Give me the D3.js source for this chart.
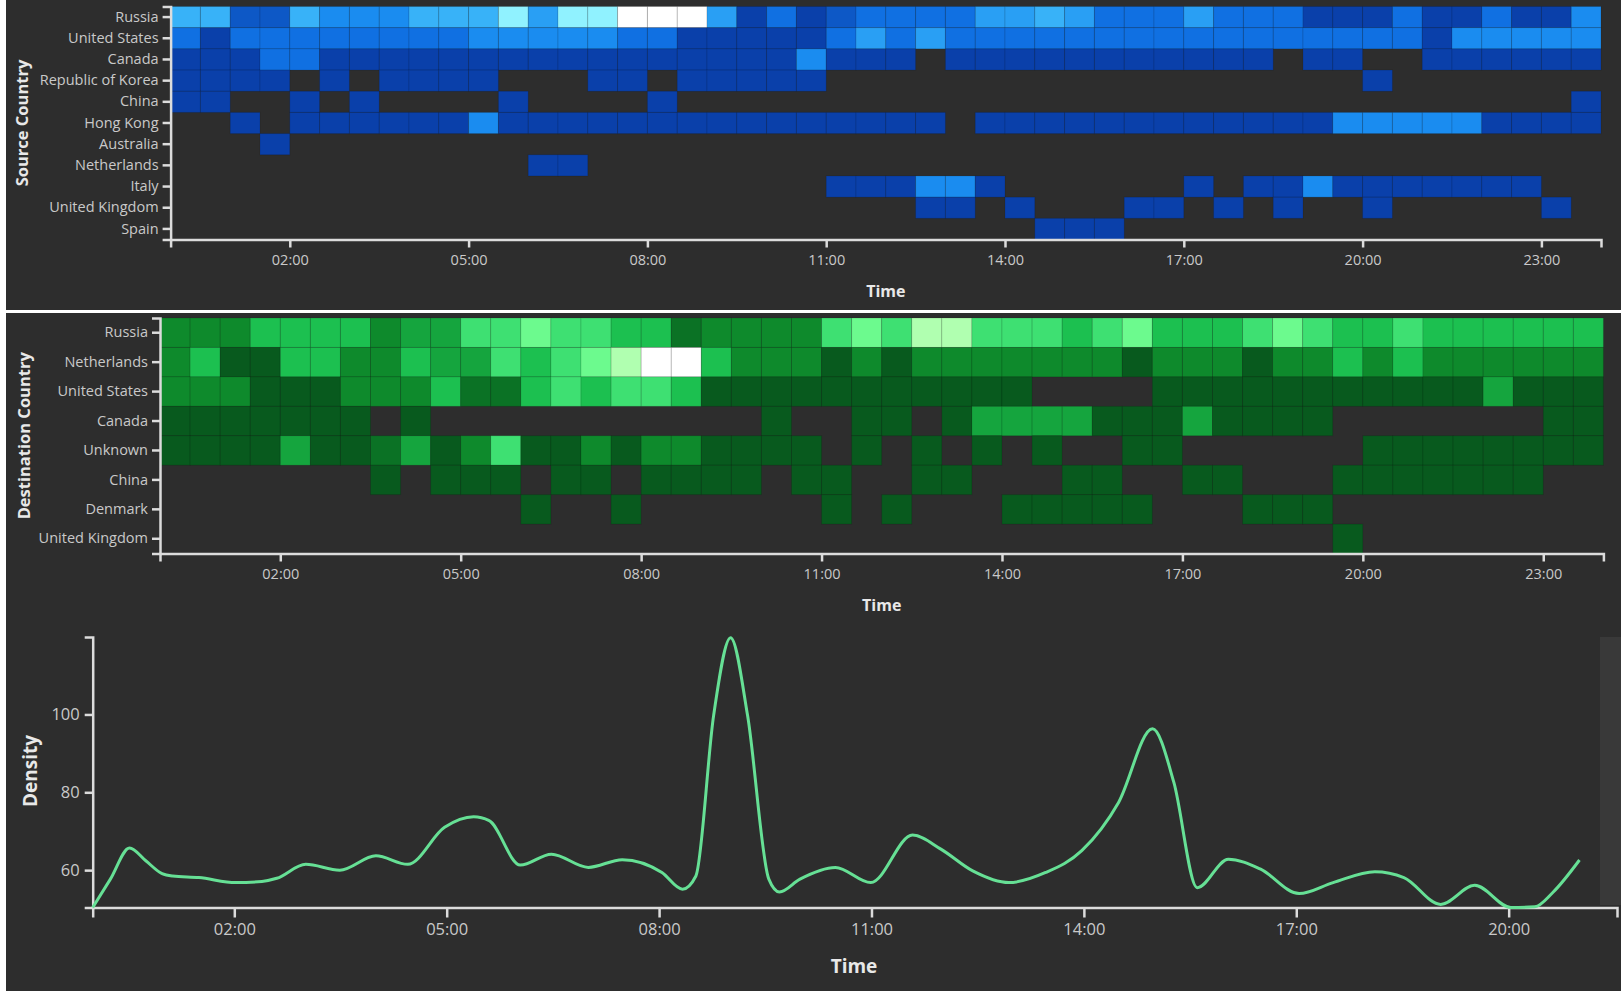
<!DOCTYPE html>
<html>
<head>
<meta charset="utf-8">
<script src="https://cdnjs.cloudflare.com/ajax/libs/d3/7.8.5/d3.min.js"></script>
<style>
    body { margin: 0; background: #ffffff; }
    svg text { font-family: "Open Sans", sans-serif; }
    .axis path, .axis line { stroke: #dcdcdc; stroke-width: 2.5; }
    .axis text { fill: #c9c9c9; }
    .title { fill: #e8e8e8; font-weight: bold; }
</style>
</head>
<body>
<svg id="dashboard"></svg>
<script>
// Source country heatmap (half hour slots, 0 = no traffic).
const sourceCountries = ['Russia', 'United States', 'Canada', 'Republic of Korea', 'China', 'Hong Kong',
    'Australia', 'Netherlands', 'Italy', 'United Kingdom', 'Spain'];
const sourceCounts = [
    [6,6,2,2,6,4,4,4,6,6, 6,9,5,9,9,12,12,12,5,1, 3,1,2,3,3,3,3,5,5,6, 5,3,3,3,5,3,3,3,1,1, 1,3,1,1,3,1,1,4],
    [3,1,3,3,3,3,3,3,3,3, 4,4,4,4,4,3,3,1,1,1, 1,1,3,5,3,5,3,3,3,3, 3,3,3,3,3,3,3,3,3,3, 3,3,1,4,4,4,4,4],
    [1,1,1,3,3,1,1,1,1,1, 1,1,1,1,1,1,1,1,1,1, 1,4,1,1,1,0,1,1,1,1, 1,1,1,1,1,1,1,0,1,1, 0,0,1,1,1,1,1,1],
    [1,1,1,1,0,1,0,1,1,1, 1,0,0,0,1,1,0,1,1,1, 1,1,0,0,0,0,0,0,0,0, 0,0,0,0,0,0,0,0,0,0, 1,0,0,0,0,0,0,0],
    [1,1,0,0,1,0,1,0,0,0, 0,1,0,0,0,0,1,0,0,0, 0,0,0,0,0,0,0,0,0,0, 0,0,0,0,0,0,0,0,0,0, 0,0,0,0,0,0,0,1],
    [0,0,1,0,1,1,1,1,1,1, 4,1,1,1,1,1,1,1,1,1, 1,1,1,1,1,1,0,1,1,1, 1,1,1,1,1,1,1,1,1,4, 4,4,4,4,1,1,1,1],
    [0,0,0,1,0,0,0,0,0,0, 0,0,0,0,0,0,0,0,0,0, 0,0,0,0,0,0,0,0,0,0, 0,0,0,0,0,0,0,0,0,0, 0,0,0,0,0,0,0,0],
    [0,0,0,0,0,0,0,0,0,0, 0,0,1,1,0,0,0,0,0,0, 0,0,0,0,0,0,0,0,0,0, 0,0,0,0,0,0,0,0,0,0, 0,0,0,0,0,0,0,0],
    [0,0,0,0,0,0,0,0,0,0, 0,0,0,0,0,0,0,0,0,0, 0,0,1,1,1,4,4,1,0,0, 0,0,0,0,1,0,1,1,4,1, 1,1,1,1,1,1,0,0],
    [0,0,0,0,0,0,0,0,0,0, 0,0,0,0,0,0,0,0,0,0, 0,0,0,0,0,1,1,0,1,0, 0,0,1,1,0,1,0,1,0,0, 1,0,0,0,0,0,1,0],
    [0,0,0,0,0,0,0,0,0,0, 0,0,0,0,0,0,0,0,0,0, 0,0,0,0,0,0,0,0,0,1, 1,1,0,0,0,0,0,0,0,0, 0,0,0,0,0,0,0,0]
];

// Destination country heatmap.
const destCountries = ['Russia', 'Netherlands', 'United States', 'Canada', 'Unknown', 'China', 'Denmark', 'United Kingdom'];
const destCounts = [
    [3,3,3,5,5,5,5,3,4,4, 6,6,7,6,6,5,5,2,3,3, 3,3,6,7,6,8,8,6,6,6, 5,6,7,5,5,5,6,7,6,5, 5,6,5,5,5,5,5,5],
    [3,5,1,1,5,5,3,3,5,4, 4,6,5,6,7,8,10,10,5,3, 3,3,1,3,1,3,3,3,3,3, 3,3,1,3,3,3,1,3,3,5, 3,5,3,3,3,3,3,3],
    [3,3,3,1,1,1,3,3,3,5, 2,2,5,6,5,6,6,5,1,1, 1,1,1,1,1,1,1,1,1,0, 0,0,0,1,1,1,1,1,1,1, 1,1,1,1,4,1,1,1],
    [1,1,1,1,1,1,1,0,1,0, 0,0,0,0,0,0,0,0,0,0, 1,0,0,1,1,0,1,4,4,4, 4,1,1,1,4,1,1,1,1,0, 0,0,0,0,0,0,1,1],
    [1,1,1,1,4,1,1,2,4,1, 3,6,1,1,3,1,3,3,1,1, 1,1,0,1,0,1,0,1,0,1, 0,0,1,1,0,0,0,0,0,0, 1,1,1,1,1,1,1,1],
    [0,0,0,0,0,0,0,1,0,1, 1,1,0,1,1,0,1,1,1,1, 0,1,1,0,0,1,1,0,0,0, 1,1,0,0,1,1,0,0,0,1, 1,1,1,1,1,1,0,0],
    [0,0,0,0,0,0,0,0,0,0, 0,0,1,0,0,1,0,0,0,0, 0,0,1,0,1,0,0,0,1,1, 1,1,1,0,0,0,1,1,1,0, 0,0,0,0,0,0,0,0],
    [0,0,0,0,0,0,0,0,0,0, 0,0,0,0,0,0,0,0,0,0, 0,0,0,0,0,0,0,0,0,0, 0,0,0,0,0,0,0,0,0,1, 0,0,0,0,0,0,0,0]
];

// Density over the day (hours, value).
const densityHours = [0, 0.25, 0.52, 0.75, 0.98, 1.13, 1.5, 2.02, 2.39, 2.6, 3.01, 3.49, 4.0, 4.45, 4.97, 5.38,
    5.6, 6.04, 6.48, 7.0, 7.48, 8.04, 8.33, 8.52, 8.77, 9.01, 9.25, 9.55, 9.7, 9.99, 10.49, 10.99, 11.58,
    11.98, 12.43, 12.94, 13.46, 13.97, 14.49, 14.97, 15.27, 15.6, 16.04, 16.49, 17.04, 17.52, 18.11, 18.52,
    19.04, 19.52, 20.03, 20.37, 20.62, 21.0];
const densityValues = [50.4, 57.7, 65.7, 62.4, 59.1, 58.5, 58.1, 56.8, 57.1, 57.9, 61.5, 60.0, 63.7, 61.5,
    71.0, 73.7, 72.7, 61.3, 64.1, 60.7, 62.7, 59.4, 55.1, 58.5, 99.7, 119.7, 99.7, 57.7, 54.4, 57.7, 60.7,
    56.8, 69.0, 65.4, 59.8, 56.8, 59.4, 65.0, 77.4, 96.3, 82.6, 55.5, 62.8, 60.3, 54.0, 56.8, 59.6, 58.1,
    51.2, 56.1, 50.4, 50.6, 54.2, 62.6];

const heatTicks = [2, 5, 8, 11, 14, 17, 20, 23];
const densityTicks = [2, 5, 8, 11, 14, 17, 20];
const densityYTicks = [60, 80, 100];

(function() {

    const w = 1621;
    const h = 991;
    const fmtHour = t => d3.format('02')(t) + ':00';

    const svg = d3.select('#dashboard')
        .attr('width', w)
        .attr('height', h);

    // Dark panels.
    svg.append('rect').attr('x', 6).attr('y', 0).attr('width', w - 6).attr('height', 310).attr('fill', '#2d2d2d');
    svg.append('rect').attr('x', 6).attr('y', 313).attr('width', w - 6).attr('height', h - 313).attr('fill', '#2d2d2d');

    const blue = d3.scaleLinear()
        .domain([1, 3, 4, 6, 9, 12])
        .range(['#0a40aa', '#1070e2', '#1a8cf0', '#38b2f8', '#90f2ff', '#ffffff']);

    const green = d3.scaleLinear()
        .domain([1, 3, 5, 6, 7, 8, 10])
        .range(['#085a1e', '#0e8a2c', '#1cc050', '#3ee072', '#6cfa8e', '#b0ffb0', '#ffffff']);

    const heatmap = (countries, counts, color, xRange, yRange, yTitle, yTitleX, xTitleY) => {

        // Scale X (hours of the day)
        const scaleX = d3.scaleLinear().domain([0, 24]).range(xRange);

        // Scale Y (countries)
        const scaleY = d3.scaleBand().domain(countries).range(yRange);

        const cells = [];
        counts.forEach((row, r) => row.forEach((v, c) => {
            if (v > 0) cells.push({country: countries[r], slot: c, value: v});
        }));

        svg.append('g')
            .selectAll('rect')
            .data(cells)
            .join('rect')
            .attr('x', d => scaleX(d.slot / 2))
            .attr('y', d => scaleY(d.country))
            .attr('width', scaleX(0.5) - scaleX(0))
            .attr('height', scaleY.bandwidth())
            .attr('fill', d => color(d.value))
            .attr('stroke', 'rgba(0,0,0,0.12)')
            .attr('stroke-width', 1);

        // Render X Axis.
        svg.append('g')
            .attr('class', 'axis')
            .attr('transform', `translate(0, ${yRange[1]})`)
            .call(d3.axisBottom(scaleX).tickValues(heatTicks).tickFormat(fmtHour).tickSize(8).tickPadding(7))
            .attr('font-size', 14.5);

        // Render Y Axis.
        svg.append('g')
            .attr('class', 'axis')
            .attr('transform', `translate(${xRange[0]}, 0)`)
            .call(d3.axisLeft(scaleY).tickSize(8).tickPadding(4))
            .attr('font-size', 14.5);

        svg.append('text')
            .attr('class', 'title')
            .attr('font-size', 16.5)
            .attr('text-anchor', 'middle')
            .attr('dominant-baseline', 'central')
            .attr('transform', `translate(${yTitleX}, ${(yRange[0] + yRange[1]) / 2}) rotate(-90)`)
            .text(yTitle);

        svg.append('text')
            .attr('class', 'title')
            .attr('font-size', 16)
            .attr('text-anchor', 'middle')
            .attr('dominant-baseline', 'central')
            .attr('x', (xRange[0] + xRange[1]) / 2)
            .attr('y', xTitleY)
            .text('Time');
    };

    heatmap(sourceCountries, sourceCounts, blue, [170.6, 1601], [6.5, 239.5], 'Source Country', 21, 291);
    heatmap(destCountries, destCounts, green, [160, 1603.4], [318, 553.5], 'Destination Country', 23, 605);

    // Density line chart.
    const lineX = d3.scaleLinear().domain([0, 21.53]).range([92.7, 1617]);
    const lineY = d3.scaleLinear().domain([50.4, 119.9]).range([907.5, 637]);

    // Side bar on the right.
    svg.append('rect')
        .attr('x', 1600).attr('y', 637)
        .attr('width', 21).attr('height', 268)
        .attr('fill', '#393939');

    svg.append('g')
        .attr('class', 'axis')
        .attr('transform', `translate(0, ${lineY.range()[0]})`)
        .call(d3.axisBottom(lineX).tickValues(densityTicks).tickFormat(fmtHour).tickSize(10).tickPadding(6))
        .attr('font-size', 16.5);

    svg.append('g')
        .attr('class', 'axis')
        .attr('transform', `translate(${lineX.range()[0]}, 0)`)
        .call(d3.axisLeft(lineY).tickValues(densityYTicks).tickSize(8).tickPadding(5))
        .attr('font-size', 16.5);

    const points = densityHours.map((t, i) => [t, densityValues[i]]);

    svg.append('path')
        .datum(points)
        .attr('fill', 'none')
        .attr('stroke', '#66e095')
        .attr('stroke-width', 3)
        .attr('d', d3.line()
            .x(d => lineX(d[0]))
            .y(d => lineY(d[1]))
            .curve(d3.curveMonotoneX));

    svg.append('text')
        .attr('class', 'title')
        .attr('font-size', 19)
        .attr('text-anchor', 'middle')
        .attr('dominant-baseline', 'central')
        .attr('transform', `translate(30, 771) rotate(-90)`)
        .text('Density');

    svg.append('text')
        .attr('class', 'title')
        .attr('font-size', 19)
        .attr('text-anchor', 'middle')
        .attr('dominant-baseline', 'central')
        .attr('x', 854)
        .attr('y', 966)
        .text('Time');

})();
</script>
</body>
</html>
